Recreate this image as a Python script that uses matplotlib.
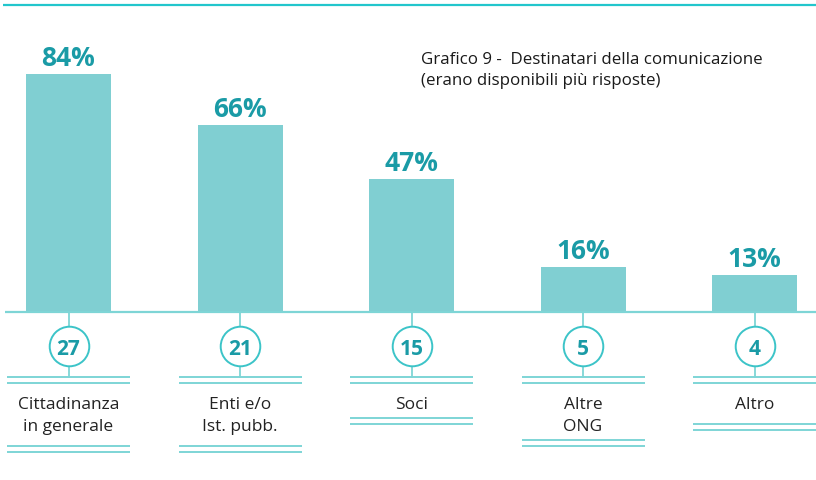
import matplotlib
matplotlib.use("Agg")
import matplotlib.pyplot as plt

# data
categories = ["Cittadinanza\nin generale", "Enti e/o\nIst. pubb.", "Soci", "Altre\nONG", "Altro"]
percent = [84, 66, 47, 16, 13]
counts = [27, 21, 15, 5, 4]
title = "Grafico 9 -  Destinatari della comunicazione\n(erano disponibili più risposte)"

BAR = "#80cfd2"
DARK = "#1a9ba6"
LINE = "#7ed5d6"
RING = "#3cc4c8"

W, H, DPI = 816, 481, 100
BASE_PX = 313          # pixel row of the baseline
PX_PER_PCT = 2.83      # pixels per percent
STEP_PX = 171.5        # pixels between bar centres
X0_PX = 68.5           # centre of first bar


def py(pix):
    """pixel row -> data y"""
    return (BASE_PX - pix) / PX_PER_PCT


def px(pix):
    """pixel column -> data x"""
    return (pix - X0_PX) / STEP_PX


fig = plt.figure(figsize=(W / DPI, H / DPI), dpi=DPI)
ax = fig.add_axes([0, 0, 1, 1])
ax.set_xlim(px(0), px(W))
ax.set_ylim(py(H), py(0))
ax.axis("off")

x = list(range(len(categories)))
ax.bar(x, percent, width=85 / STEP_PX, color=BAR, zorder=2)

for xi, p in zip(x, percent):
    ax.annotate(f"{p}%", (xi, p), textcoords="offset points", xytext=(0, 6.5),
                ha="center", va="baseline", fontsize=19, fontweight="bold",
                color=DARK, family="Open Sans")

# top rule and baseline
ax.plot([px(3), px(W)], [py(6), py(6)], color="#22c6cc", lw=1.6, solid_capstyle="butt")
ax.plot([px(5), px(W)], [0, 0], color=LINE, lw=1.6, zorder=3, solid_capstyle="butt")

half = 61.5 / STEP_PX
bottom_rows = [447, 447, 419, 441, 425]
for xi, n, lab, brow in zip(x, counts, categories, bottom_rows):
    ax.plot([xi, xi], [0, py(378)], color=LINE, lw=1.3, zorder=1)
    ax.plot([xi], [py(347)], marker="o", markersize=28.5, markerfacecolor="white",
            markeredgecolor=RING, markeredgewidth=1.4, zorder=4)
    ax.text(xi, py(347), str(n), ha="center", va="center_baseline", fontsize=15,
            fontweight="bold", color=DARK, family="Open Sans", zorder=5)
    for row in (378, 384, brow, brow + 6):
        ax.plot([xi - half, xi + half], [py(row), py(row)], color=LINE, lw=1.4,
                solid_capstyle="butt")
    ax.text(xi, py(397), lab, ha="center", va="top", fontsize=12.5, color="#222222",
            family="Open Sans", linespacing=1.5)

ax.text(px(421), py(52), title, ha="left", va="top", fontsize=12.2, color="#1a1a1a",
        family="Open Sans", linespacing=1.45)

fig.savefig("out.png", dpi=DPI)
